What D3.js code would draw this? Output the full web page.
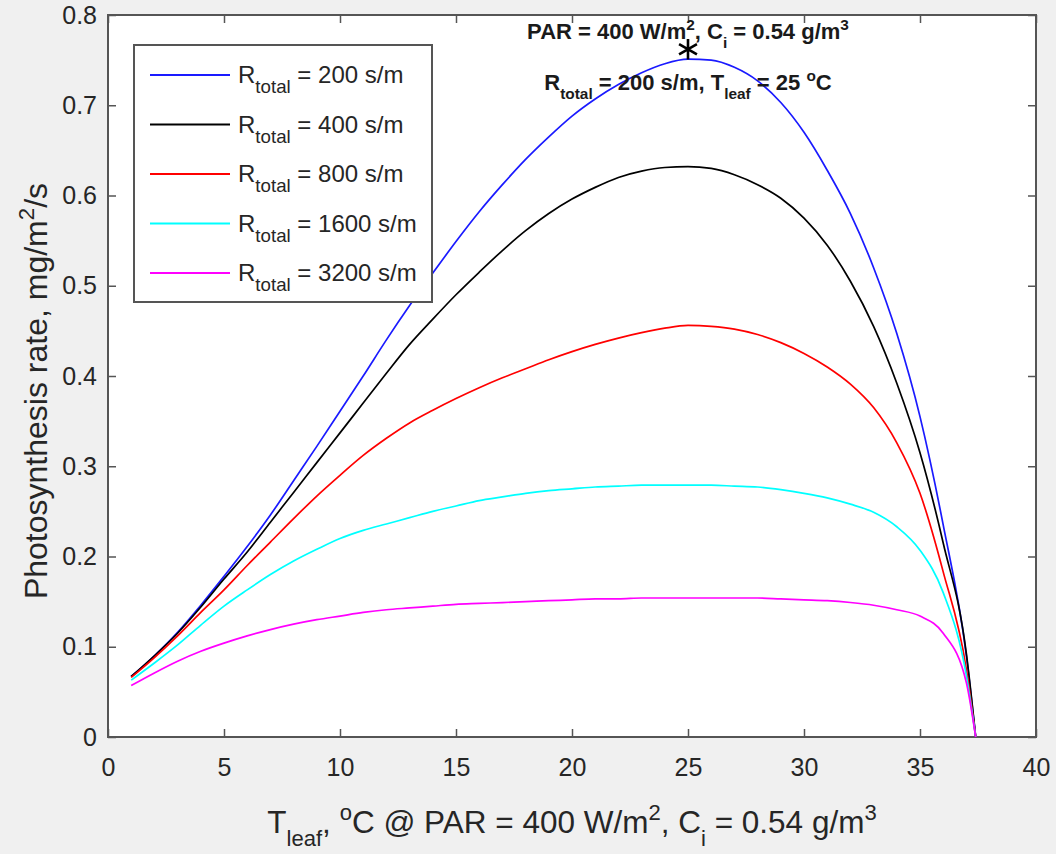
<!DOCTYPE html>
<html>
<head>
<meta charset="utf-8">
<script src="https://cdn.jsdelivr.net/npm/d3@7"></script>
<style>
  html, body { margin: 0; padding: 0; background: #f0f0f0; }
  svg { display: block; font-family: "Liberation Sans", Arial, Helvetica, sans-serif; }
  text { white-space: pre; }
</style>
</head>
<body>
<svg id="chart" width="1056" height="854"></svg>
<script>
// Leaf temperature, deg C
const leafTemp = [1, 2, 3, 4, 5, 6, 7, 8, 9, 10, 11, 12, 13, 14, 15, 16, 17, 18, 19, 20,
                  21, 22, 23, 24, 25, 26, 27, 28, 29, 30, 31, 32, 33, 34, 35, 36, 37, 37.4];

// Photosynthesis rate (mg/m^2/s) for each total resistance
const rate200  = [0.067, 0.090, 0.116, 0.146, 0.178, 0.211, 0.246, 0.284, 0.322, 0.361,
                  0.400, 0.440, 0.478, 0.514, 0.549, 0.582, 0.612, 0.640, 0.665, 0.688,
                  0.707, 0.723, 0.736, 0.746, 0.751, 0.750, 0.742, 0.727, 0.703, 0.670,
                  0.628, 0.580, 0.520, 0.447, 0.355, 0.235, 0.090, 0];
const rate400  = [0.067, 0.090, 0.115, 0.144, 0.175, 0.205, 0.238, 0.271, 0.304, 0.337,
                  0.370, 0.403, 0.435, 0.463, 0.490, 0.515, 0.539, 0.561, 0.580, 0.596,
                  0.609, 0.620, 0.627, 0.631, 0.632, 0.630, 0.623, 0.612, 0.597, 0.575,
                  0.545, 0.505, 0.455, 0.392, 0.315, 0.215, 0.092, 0];
const rate800  = [0.066, 0.088, 0.112, 0.138, 0.163, 0.190, 0.216, 0.242, 0.267, 0.290,
                  0.312, 0.331, 0.348, 0.362, 0.375, 0.387, 0.398, 0.408, 0.418, 0.427,
                  0.435, 0.442, 0.448, 0.453, 0.456, 0.455, 0.452, 0.446, 0.437, 0.425,
                  0.410, 0.391, 0.365, 0.326, 0.270, 0.183, 0.075, 0];
const rate1600 = [0.063, 0.082, 0.102, 0.124, 0.145, 0.163, 0.180, 0.195, 0.208, 0.220,
                  0.229, 0.236, 0.243, 0.250, 0.256, 0.262, 0.266, 0.270, 0.273, 0.275,
                  0.277, 0.278, 0.279, 0.279, 0.279, 0.279, 0.278, 0.277, 0.274, 0.270,
                  0.265, 0.258, 0.249, 0.233, 0.207, 0.160, 0.068, 0];
const rate3200 = [0.057, 0.071, 0.084, 0.095, 0.104, 0.112, 0.119, 0.125, 0.130, 0.134,
                  0.138, 0.141, 0.143, 0.145, 0.147, 0.148, 0.149, 0.150, 0.151, 0.152,
                  0.153, 0.153, 0.154, 0.154, 0.154, 0.154, 0.154, 0.154, 0.153, 0.152,
                  0.151, 0.149, 0.146, 0.141, 0.134, 0.115, 0.060, 0];

const resistances = ["200", "400", "800", "1600", "3200"];
const seriesRates = [rate200, rate400, rate800, rate1600, rate3200];
const seriesColors = ["#1a1aff", "#000000", "#ff0000", "#00ffff", "#ff00ff"];

const xTicks = [0, 5, 10, 15, 20, 25, 30, 35, 40];
const yTicks = [0, 0.1, 0.2, 0.3, 0.4, 0.5, 0.6, 0.7, 0.8];

// Optimum marked with an asterisk: [leaf temp, rate]
const optimumPoint = [25, 0.762];

const svg = d3.select("#chart");
const plot = { left: 108, right: 1036, top: 15, bottom: 737 };

const x = d3.scaleLinear().domain([0, 40]).range([plot.left, plot.right]);
const y = d3.scaleLinear().domain([0, 0.8]).range([plot.bottom, plot.top]);

const axisColor = "#555555";
const textColor = "#262626";

// Writes text with TeX-like sub/superscripts into a <text> element
function richText(sel, parts, size, scriptScale) {
  let shift = 0;
  parts.forEach(([txt, mode]) => {
    const target = mode === "sub" ? size * 0.42 : mode === "sup" ? -size * 0.42 : 0;
    sel.append("tspan")
      .attr("dy", target - shift)
      .attr("font-size", mode ? size * scriptScale : size)
      .text(txt);
    shift = target;
  });
}

// Plot background
svg.append("rect")
  .attr("x", plot.left).attr("y", plot.top)
  .attr("width", plot.right - plot.left).attr("height", plot.bottom - plot.top)
  .attr("fill", "#ffffff");

// Axes with inward ticks on all four sides
const tickLen = 8;
function styleAxis(g) {
  g.select(".domain").remove();
  g.selectAll(".tick line").attr("stroke", axisColor).attr("stroke-width", 1.5);
  g.selectAll(".tick text").attr("fill", textColor)
    .attr("font-family", "'Liberation Sans', Arial, sans-serif");
}

svg.append("g")
  .attr("transform", `translate(0,${plot.bottom})`)
  .call(d3.axisBottom(x).tickValues(xTicks).tickFormat(d3.format("d"))
    .tickSizeInner(-tickLen).tickSizeOuter(0).tickPadding(21))
  .call(styleAxis)
  .call(g => g.selectAll(".tick text").attr("font-size", 25));

svg.append("g")
  .attr("transform", `translate(0,${plot.top})`)
  .call(d3.axisTop(x).tickValues(xTicks).tickFormat("")
    .tickSizeInner(-tickLen).tickSizeOuter(0))
  .call(styleAxis);

svg.append("g")
  .attr("transform", `translate(${plot.left},0)`)
  .call(d3.axisLeft(y).tickValues(yTicks).tickFormat(d => d === 0 ? "0" : d3.format(".1f")(d))
    .tickSizeInner(-tickLen).tickSizeOuter(0).tickPadding(11))
  .call(styleAxis)
  .call(g => g.selectAll(".tick text").attr("font-size", 25));

svg.append("g")
  .attr("transform", `translate(${plot.right},0)`)
  .call(d3.axisRight(y).tickValues(yTicks).tickFormat("")
    .tickSizeInner(-tickLen).tickSizeOuter(0))
  .call(styleAxis);

// Axes box
svg.append("rect")
  .attr("x", plot.left).attr("y", plot.top)
  .attr("width", plot.right - plot.left).attr("height", plot.bottom - plot.top)
  .attr("fill", "none").attr("stroke", axisColor).attr("stroke-width", 2);

// Curves
const line = d3.line()
  .x((d, i) => x(leafTemp[i]))
  .y(d => y(d))
  .curve(d3.curveMonotoneX);

svg.append("g").selectAll("path")
  .data(seriesRates)
  .join("path")
  .attr("d", d => line(d))
  .attr("fill", "none")
  .attr("stroke", (d, i) => seriesColors[i])
  .attr("stroke-width", 1.7)
  .attr("stroke-linejoin", "round");

// Optimum marker
svg.append("path")
  .attr("transform", `translate(${x(optimumPoint[0])},${y(optimumPoint[1])})`)
  .attr("d", d3.symbol(d3.symbolAsterisk, 300)())
  .attr("fill", "none")
  .attr("stroke", "#000")
  .attr("stroke-width", 2.6);

// Condition annotation
const noteX = x(optimumPoint[0]);
richText(
  svg.append("text").attr("x", noteX).attr("y", 39)
    .attr("text-anchor", "middle").attr("font-weight", "bold").attr("fill", "#1a1a1a"),
  [["PAR = 400 W/m"], ["2", "sup"], [", C"], ["i", "sub"], [" = 0.54 g/m"], ["3", "sup"]],
  22, 0.7);
richText(
  svg.append("text").attr("x", noteX).attr("y", 90)
    .attr("text-anchor", "middle").attr("font-weight", "bold").attr("fill", "#1a1a1a"),
  [["R"], ["total", "sub"], [" = 200 s/m, T"], ["leaf", "sub"], [" = 25 "], ["o", "sup"], ["C"]],
  22, 0.7);

// Legend
const legend = { left: 134, top: 45, width: 298, height: 257, rowStart: 75, rowStep: 49.5 };
svg.append("rect")
  .attr("x", legend.left).attr("y", legend.top)
  .attr("width", legend.width).attr("height", legend.height)
  .attr("fill", "#ffffff").attr("stroke", axisColor).attr("stroke-width", 2);

const rows = svg.append("g").selectAll("g")
  .data(resistances)
  .join("g")
  .attr("transform", (d, i) => `translate(0,${legend.rowStart + i * legend.rowStep})`);

rows.append("line")
  .attr("x1", 150).attr("x2", 230).attr("y1", 0).attr("y2", 0)
  .attr("stroke", (d, i) => seriesColors[i]).attr("stroke-width", 2);

rows.each(function (d) {
  richText(
    d3.select(this).append("text").attr("x", 238).attr("y", 8).attr("fill", textColor),
    [["R"], ["total", "sub"], [` = ${d} s/m`]],
    24, 0.78);
});

// Axis titles
richText(
  svg.append("text").attr("x", (plot.left + plot.right) / 2).attr("y", 833)
    .attr("text-anchor", "middle").attr("fill", textColor),
  [["T"], ["leaf", "sub"], [", "], ["o", "sup"], ["C @ PAR = 400 W/m"], ["2", "sup"],
   [", C"], ["i", "sub"], [" = 0.54 g/m"], ["3", "sup"]],
  31.5, 0.7);

richText(
  svg.append("text")
    .attr("transform", `translate(47,${(plot.top + plot.bottom) / 2 + 15}) rotate(-90)`)
    .attr("text-anchor", "middle").attr("fill", textColor),
  [["Photosynthesis rate, mg/m"], ["2", "sup"], ["/s"]],
  32, 0.7);
</script>
</body>
</html>
